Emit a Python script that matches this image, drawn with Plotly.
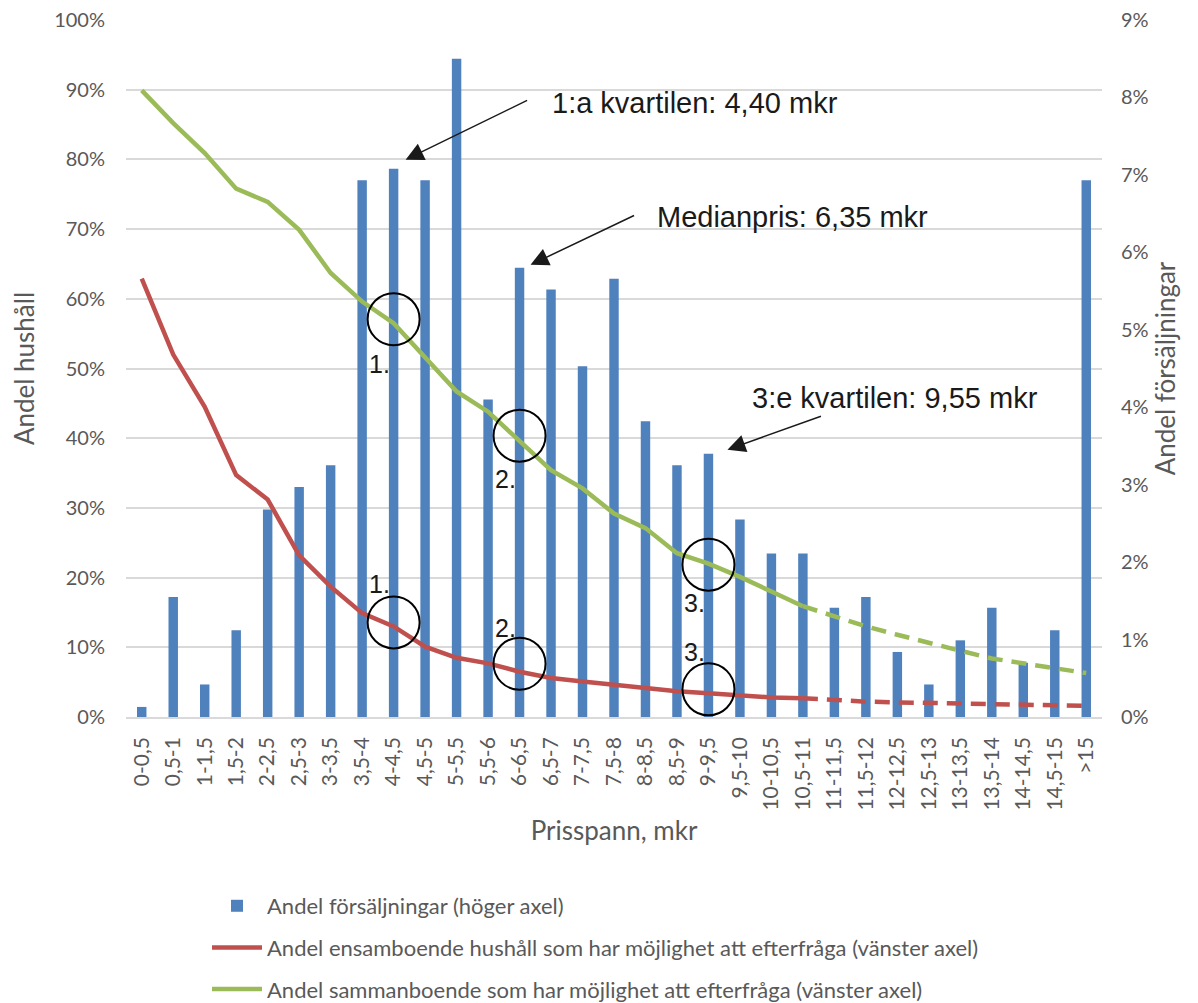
import plotly.graph_objects as go

categories = ["0-0,5", "0,5-1", "1-1,5", "1,5-2", "2-2,5", "2,5-3", "3-3,5", "3,5-4",
              "4-4,5", "4,5-5", "5-5,5", "5,5-6", "6-6,5", "6,5-7", "7-7,5", "7,5-8",
              "8-8,5", "8,5-9", "9-9,5", "9,5-10", "10-10,5", "10,5-11", "11-11,5",
              "11,5-12", "12-12,5", "12,5-13", "13-13,5", "13,5-14", "14-14,5",
              "14,5-15", ">15"]

# Andel försäljningar (höger axel)
sales_share = [0.0013, 0.0155, 0.0042, 0.0112, 0.0268, 0.0297, 0.0325, 0.0693,
               0.0708, 0.0693, 0.0850, 0.0410, 0.0580, 0.0552, 0.0453, 0.0566,
               0.0382, 0.0325, 0.0340, 0.0255, 0.0211, 0.0211, 0.0141, 0.0155,
               0.0084, 0.0042, 0.0099, 0.0141, 0.0070, 0.0112, 0.0693]

# Andel ensamboende hushåll (vänster axel)
single_share = [0.629, 0.520, 0.445, 0.347, 0.312, 0.232, 0.187, 0.149, 0.130,
                0.101, 0.085, 0.077, 0.065, 0.056, 0.051, 0.046, 0.041, 0.037,
                0.034, 0.031, 0.028, 0.027, 0.024, 0.022, 0.021, 0.020, 0.0195,
                0.0185, 0.0176, 0.017, 0.016]

# Andel sammanboende (vänster axel)
couple_share = [0.899, 0.852, 0.809, 0.758, 0.739, 0.699, 0.637, 0.596, 0.565,
                0.515, 0.467, 0.438, 0.395, 0.354, 0.328, 0.292, 0.271, 0.235,
                0.220, 0.201, 0.180, 0.159, 0.144, 0.130, 0.118, 0.106, 0.095,
                0.084, 0.077, 0.070, 0.063]

left_ticks = [i / 10 for i in range(11)]
right_ticks = [i / 100 for i in range(10)]

solid_end = 21  # lines are dashed from "10,5-11" onwards

# quartile markers: (category index, label)
quartiles = [(8, "1."), (12, "2."), (18, "3.")]
arrow_texts = ["1:a kvartilen: 4,40 mkr", "Medianpris: 6,35 mkr", "3:e kvartilen: 9,55 mkr"]

BLUE = "#4F81BD"
RED = "#C0504D"
GREEN = "#9BBB59"
GRAY = "#595959"
AX_FONT = "Lato, 'Open Sans', sans-serif"
TXT_FONT = "'Liberation Sans', Arial, sans-serif"

fig = go.Figure()

fig.add_trace(go.Bar(
    x=categories, y=sales_share, name="Andel försäljningar (höger axel)",
    marker=dict(color=BLUE, line=dict(width=0)), width=0.3,
    xaxis="x", yaxis="y", legendgroup="g1",
))

fig.add_trace(go.Scatter(
    x=categories[:solid_end + 1], y=single_share[:solid_end + 1], mode="lines",
    name="Andel ensamboende hushåll som har möjlighet att efterfråga (vänster axel)",
    line=dict(color=RED, width=4.5), xaxis="x", yaxis="y2", legendgroup="g2",
))
fig.add_trace(go.Scatter(
    x=categories[solid_end:], y=single_share[solid_end:], mode="lines",
    line=dict(color=RED, width=4.5, dash="15px,9px"), xaxis="x", yaxis="y2",
    legendgroup="g2", showlegend=False,
))
fig.add_trace(go.Scatter(
    x=categories[:solid_end + 1], y=couple_share[:solid_end + 1], mode="lines",
    name="Andel sammanboende som har möjlighet att efterfråga (vänster axel)",
    line=dict(color=GREEN, width=4.5), xaxis="x", yaxis="y2", legendgroup="g3",
))
fig.add_trace(go.Scatter(
    x=categories[solid_end:], y=couple_share[solid_end:], mode="lines",
    line=dict(color=GREEN, width=4.5, dash="15px,9px"), xaxis="x", yaxis="y2",
    legendgroup="g3", showlegend=False,
))

shapes = []
annotations = []

# circles on both lines at the quartile categories, with number labels
circle_up = {"g": [4, 6, -1], "r": [4, 8, 4]}
label_dy = {"g": [-41, -37, -39], "r": [42, 44, 41]}
for k, (idx, lab) in enumerate(quartiles):
    for key, series in (("g", couple_share), ("r", single_share)):
        off = circle_up[key][k]
        shapes.append(dict(
            type="circle", xref="x", yref="y2", xsizemode="pixel", ysizemode="pixel",
            xanchor=idx, yanchor=series[idx], x0=-26, x1=26, y0=-26 + off, y1=26 + off,
            line=dict(color="black", width=2), fillcolor="rgba(0,0,0,0)",
        ))
        annotations.append(dict(
            x=idx, y=series[idx], xref="x", yref="y2", text=lab, showarrow=False,
            xshift=-14, yshift=label_dy[key][k],
            font=dict(family=TXT_FONT, size=25, color="#1a1a1a"),
        ))

# arrows pointing at the bar tops
arrow_cfg = [  # (xshift, yshift, ax, ay, text x paper-left, text y paper)
    (12, 9, 123, -60, 0.434, 0.881),
    (11, 3, 105, -50, 0.542, 0.717),
    (19, 4, 95, -34, 0.639, 0.458),
]
for (idx, _), (xs, ys, ax, ay, tx, ty), txt in zip(quartiles, arrow_cfg, arrow_texts):
    annotations.append(dict(
        x=idx, y=sales_share[idx], xref="x", yref="y", text="", showarrow=True,
        xshift=xs, yshift=ys, ax=ax, ay=ay, axref="pixel", ayref="pixel",
        arrowhead=2, arrowsize=2.4, arrowwidth=1.5, arrowcolor="#1a1a1a", standoff=0,
    ))
    annotations.append(dict(
        x=tx, y=ty, xref="paper", yref="paper", text=txt, showarrow=False,
        xanchor="left", yanchor="middle",
        font=dict(family=TXT_FONT, size=29, color="#1a1a1a"),
    ))

fig.update_layout(
    width=1182, height=995,
    margin=dict(l=118, r=88, t=12, b=286, autoexpand=False),
    paper_bgcolor="white", plot_bgcolor="white",
    bargap=0.7,
    showlegend=True,
    legend=dict(
        orientation="v", x=0.083, y=-0.241, xanchor="left", yanchor="top",
        font=dict(family=AX_FONT, size=22, color=GRAY), traceorder="grouped",
        tracegroupgap=10, itemwidth=50, bgcolor="rgba(0,0,0,0)",
    ),
    xaxis=dict(
        type="category", categoryorder="array", categoryarray=categories,
        tickangle=-90, tickfont=dict(family=AX_FONT, size=21, color=GRAY),
        showgrid=False, showline=True, linecolor="#D9D9D9", linewidth=1.5,
        ticks="", ticklabelstandoff=10, automargin=False,
        title=dict(text="Prisspann, mkr", font=dict(family=AX_FONT, size=26, color=GRAY),
                   standoff=12),
    ),
    yaxis=dict(
        side="right", range=[0, 0.09], tickvals=right_ticks, tickformat=".0%",
        showgrid=False, zeroline=False, showline=False, ticks="", automargin=False,
        ticklabeloverflow="allow",
        tickfont=dict(family=AX_FONT, size=20, color=GRAY), ticklabelstandoff=18,
        title=dict(text="Andel försäljningar", font=dict(family=AX_FONT, size=26, color=GRAY),
                   standoff=5),
    ),
    yaxis2=dict(
        overlaying="y", side="left", range=[0, 1], tickvals=left_ticks, tickformat=".0%",
        showgrid=True, gridcolor="#D9D9D9", gridwidth=1.5, zeroline=False,
        showline=False, ticks="", automargin=False, ticklabeloverflow="allow",
        tickfont=dict(family=AX_FONT, size=20, color=GRAY), ticklabelstandoff=20,
        title=dict(text="Andel hushåll", font=dict(family=AX_FONT, size=26, color=GRAY),
                   standoff=19),
    ),
    shapes=shapes,
    annotations=annotations,
)

fig.write_html("out.html")
